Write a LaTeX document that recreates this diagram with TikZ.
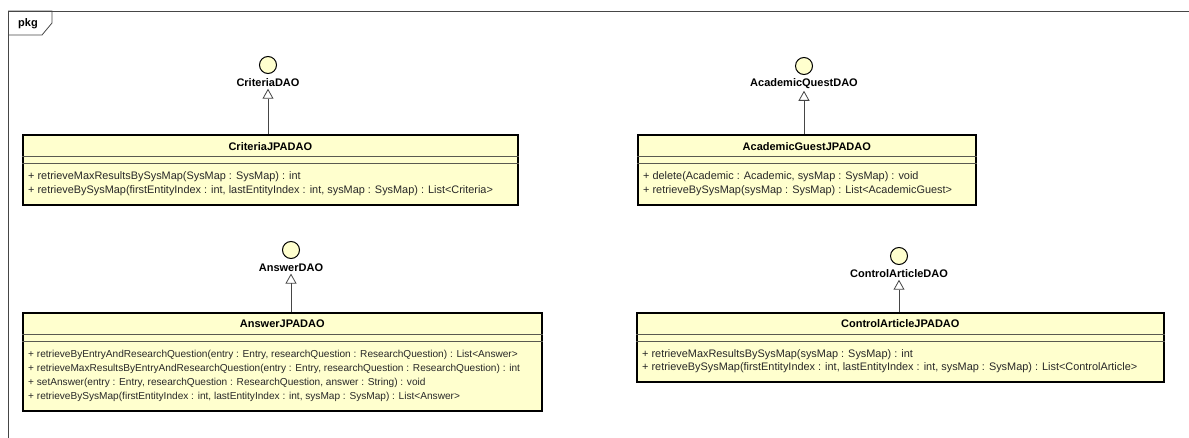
\documentclass[tikz,border=0pt]{standalone}
\usepackage{fontspec}
\setmainfont{Liberation Sans}
\usetikzlibrary{arrows.meta}

\definecolor{umlfill}{RGB}{255,255,206}
\definecolor{optext}{RGB}{40,40,40}
\definecolor{framegrey}{RGB}{70,70,70}
\definecolor{sepgrey}{RGB}{90,90,80}

\tikzset{
 classbox/.style={draw=black,line width=1.6pt,fill=umlfill,inner sep=0pt,anchor=north west},
 classname/.style={font=\fontsize{11}{12}\selectfont\bfseries,text=black,inner sep=0pt},
 oplist/.style={align=left,anchor=north west,inner sep=0pt,text=optext,
   font=\fontsize{10.9}{13.8}\selectfont},
 iface/.style={circle,draw=black,line width=1pt,fill=umlfill,minimum size=17pt,inner sep=0pt},
 ifacename/.style={font=\fontsize{11}{12}\selectfont\bfseries,inner sep=1.5pt},
 realize/.style={draw=framegrey,line width=0.8pt,-{Triangle[open,length=10pt,width=11pt]}},
 compline/.style={draw=sepgrey,line width=0.8pt},
}

\begin{document}
\begin{tikzpicture}[x=1pt,y=-1pt]
 \useasboundingbox (0,0) rectangle (1189,438);

 % package frame
 \draw[framegrey,line width=0.8pt] (1189,11) -- (8,11) -- (8,438);
 \draw[framegrey,line width=0.8pt] (8,11) -- (52,11) -- (52,23) -- (42,35) -- (8,35);
 \node[font=\fontsize{11}{12}\selectfont\bfseries,inner sep=0pt] (pkg) at (28,24) {pkg};

 % interfaces
 \node[iface] (critdaoicon) at (268,65) {};
 \node[ifacename] (critdao) at (268,83) {CriteriaDAO};
 \node[iface] (acadaoicon) at (804,66) {};
 \node[ifacename] (acadao) at (804,84) {AcademicQuestDAO};
 \node[iface] (ansdaoicon) at (291,250) {};
 \node[ifacename] (ansdao) at (291,268) {AnswerDAO};
 \node[iface] (ctrldaoicon) at (899,256) {};
 \node[ifacename] (ctrldao) at (899,274) {ControlArticleDAO};

 % classes
 \node[classbox,minimum width=495pt,minimum height=70pt] (crit) at (22,134) {};
 \node[classname] (critname) at ([yshift=-12.5pt]crit.north) {CriteriaJPADAO};
 \draw[compline] ([yshift=-22pt]crit.north west) -- ([yshift=-22pt]crit.north east);
 \draw[compline] ([yshift=-29pt]crit.north west) -- ([yshift=-29pt]crit.north east);
 \node[oplist] (critops) at ([xshift=6pt,yshift=-37.5pt]crit.north west)
  {+ retrieveMaxResultsBySysMap(SysMap : SysMap) : int\\
   + retrieveBySysMap(firstEntityIndex : int, lastEntityIndex : int, sysMap : SysMap) : List<Criteria>};

 \node[classbox,minimum width=338pt,minimum height=70pt] (aca) at (637,134) {};
 \node[classname] (acaname) at ([yshift=-12.5pt]aca.north) {AcademicGuestJPADAO};
 \draw[compline] ([yshift=-22pt]aca.north west) -- ([yshift=-22pt]aca.north east);
 \draw[compline] ([yshift=-29pt]aca.north west) -- ([yshift=-29pt]aca.north east);
 \node[oplist] (acaops) at ([xshift=6pt,yshift=-37.5pt]aca.north west)
  {+ delete(Academic : Academic, sysMap : SysMap) : void\\
   + retrieveBySysMap(sysMap : SysMap) : List<AcademicGuest>};

 \node[classbox,minimum width=519pt,minimum height=98pt] (ans) at (22,312) {};
 \node[classname] (ansname) at ([yshift=-11.5pt]ans.north) {AnswerJPADAO};
 \draw[compline] ([yshift=-22pt]ans.north west) -- ([yshift=-22pt]ans.north east);
 \draw[compline] ([yshift=-29pt]ans.north west) -- ([yshift=-29pt]ans.north east);
 \node[oplist,font=\fontsize{10.1}{14.3}\selectfont] (ansops) at ([xshift=6pt,yshift=-37.5pt]ans.north west)
  {+ retrieveByEntryAndResearchQuestion(entry : Entry, researchQuestion : ResearchQuestion) : List<Answer>\\
   + retrieveMaxResultsByEntryAndResearchQuestion(entry : Entry, researchQuestion : ResearchQuestion) : int\\
   + setAnswer(entry : Entry, researchQuestion : ResearchQuestion, answer : String) : void\\
   + retrieveBySysMap(firstEntityIndex : int, lastEntityIndex : int, sysMap : SysMap) : List<Answer>};

 \node[classbox,minimum width=527pt,minimum height=69pt] (ctrl) at (636,312) {};
 \node[classname] (ctrlname) at ([yshift=-12pt]ctrl.north) {ControlArticleJPADAO};
 \draw[compline] ([yshift=-22pt]ctrl.north west) -- ([yshift=-22pt]ctrl.north east);
 \draw[compline] ([yshift=-29pt]ctrl.north west) -- ([yshift=-29pt]ctrl.north east);
 \node[oplist] (ctrlops) at ([xshift=6pt,yshift=-37pt]ctrl.north west)
  {+ retrieveMaxResultsBySysMap(sysMap : SysMap) : int\\
   + retrieveBySysMap(firstEntityIndex : int, lastEntityIndex : int, sysMap : SysMap) : List<ControlArticle>};

 % realizations
 \draw[realize] (crit.north -| critdao.south) -- (critdao.south);
 \draw[realize] (aca.north -| acadao.south) -- (acadao.south);
 \draw[realize] (ans.north -| ansdao.south) -- (ansdao.south);
 \draw[realize] (ctrl.north -| ctrldao.south) -- (ctrldao.south);
\end{tikzpicture}
\end{document}
